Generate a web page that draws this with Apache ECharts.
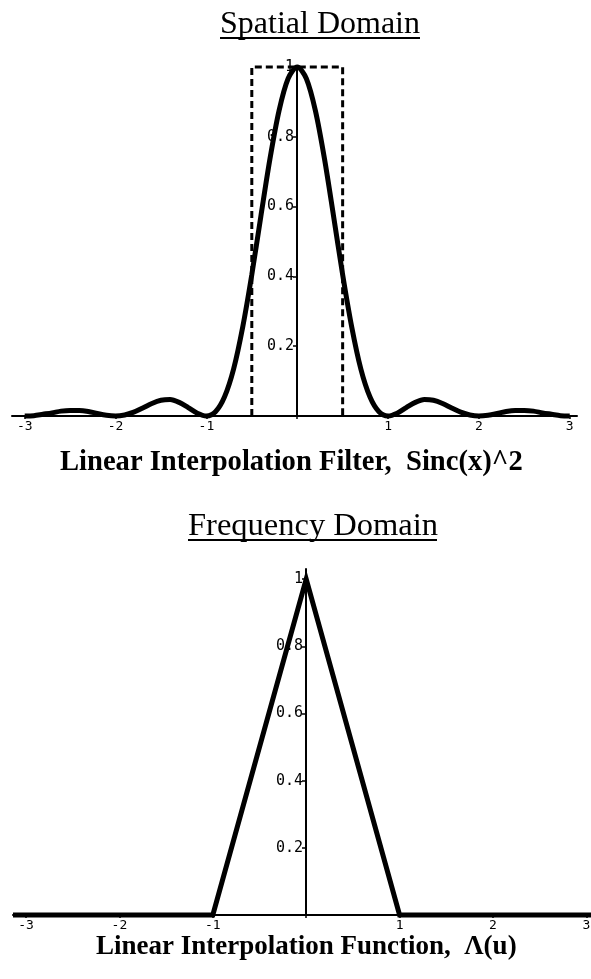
<!DOCTYPE html>
<html>
<head>
<meta charset="utf-8">
<script src="https://cdn.jsdelivr.net/npm/echarts@6/dist/echarts.min.js"></script>
<style>
  html, body { margin: 0; padding: 0; background: #fff; }
  #chart { width: 591px; height: 979px; }
</style>
</head>
<body>
<div id="chart"></div>
<script>
// spatial domain: sinc(x)^2 at 0.1 steps
const sincX = [
  -3, -2.9, -2.8, -2.7, -2.6, -2.5, -2.4, -2.3, -2.2, -2.1,
  -2, -1.9, -1.8, -1.7, -1.6, -1.5, -1.4, -1.3, -1.2, -1.1,
  -1, -0.9, -0.8, -0.7, -0.6, -0.5, -0.4, -0.3, -0.2, -0.1,
  0, 0.1, 0.2, 0.3, 0.4, 0.5, 0.6, 0.7, 0.8, 0.9,
  1, 1.1, 1.2, 1.3, 1.4, 1.5, 1.6, 1.7, 1.8, 1.9,
  2, 2.1, 2.2, 2.3, 2.4, 2.5, 2.6, 2.7, 2.8, 2.9, 3,
]
const sincY = [
  0, 0.001, 0.005, 0.009, 0.014, 0.016, 0.016, 0.013, 0.007, 0.002,
  0, 0.003, 0.011, 0.023, 0.036, 0.045, 0.047, 0.039, 0.024, 0.008,
  0, 0.012, 0.055, 0.135, 0.255, 0.405, 0.573, 0.737, 0.875, 0.967,
  1, 0.967, 0.875, 0.737, 0.573, 0.405, 0.255, 0.135, 0.055, 0.012,
  0, 0.008, 0.024, 0.039, 0.047, 0.045, 0.036, 0.023, 0.011, 0.003,
  0, 0.002, 0.007, 0.013, 0.016, 0.016, 0.014, 0.009, 0.005, 0.001, 0,
]
// dashed box filter outline
const boxX = [-0.5, -0.5, 0.5, 0.5]
const boxY = [0, 1, 1, 0]

// frequency domain: triangle
const triX = [-3.14, -1, 0, 1, 3.05]
const triY = [0, 0, 1, 0, 0]

const xTicks = [-3, -2, -1, 0, 1, 2, 3]
const xLabels = [-3, -2, -1, 1, 2, 3]
const yLabels = [0.2, 0.4, 0.6, 0.8, 1]

const monoFont = 'DejaVu Sans Mono'
const serifFont = '"Liberation Serif", "Times New Roman", serif'

function pairs(xs, ys) {
  return xs.map((x, i) => [x, ys[i]])
}

function makeX(gridIndex, min, max) {
  return {
    type: 'value',
    gridIndex,
    min,
    max,
    splitLine: { show: false },
    axisLine: { onZero: false, lineStyle: { color: '#000', width: 2 } },
    axisTick: { customValues: xTicks, length: 3, lineStyle: { color: '#000', width: 1.5 } },
    axisLabel: {
      customValues: xLabels,
      color: '#000',
      fontFamily: monoFont,
      fontSize: 13,
      margin: 4,
    },
  }
}

// y axis sits on x = 0; shifted there with a negative offset from the grid's left edge
function makeY(gridIndex, max, offset) {
  return {
    type: 'value',
    gridIndex,
    position: 'left',
    offset,
    min: 0,
    max,
    splitLine: { show: false },
    axisLine: { onZero: false, lineStyle: { color: '#000', width: 2 } },
    axisTick: { customValues: yLabels, length: 4, lineStyle: { color: '#000', width: 1.5 } },
    axisLabel: {
      customValues: yLabels,
      color: '#000',
      fontFamily: monoFont,
      fontSize: 15,
      margin: 3,
      formatter: (v) => (v === 1 ? '1' : v.toFixed(1)),
    },
  }
}

const chart = echarts.init(document.getElementById('chart'), null, { renderer: 'canvas' })

chart.setOption({
  animation: false,
  backgroundColor: '#fff',
  grid: [
    { left: 12, top: 67, width: 565, height: 349, outerBoundsMode: 'none', containLabel: false },
    { left: 13, top: 569, width: 578, height: 346, outerBoundsMode: 'none', containLabel: false },
  ],
  xAxis: [makeX(0, -3.14, 3.08), makeX(1, -3.14, 3.05)],
  yAxis: [makeY(0, 1, -285), makeY(1, 1.03, -293)],
  graphic: [
    {
      type: 'text', left: 220, top: 9,
      style: { text: 'Spatial Domain', font: '32px ' + serifFont, fill: '#000' },
    },
    { type: 'line', shape: { x1: 220, y1: 38, x2: 420, y2: 38 }, style: { stroke: '#000', lineWidth: 2 } },
    {
      type: 'text', left: 60, top: 448,
      style: { text: 'Linear Interpolation Filter,  Sinc(x)^2', font: 'bold 28.6px ' + serifFont, fill: '#000' },
    },
    {
      type: 'text', left: 188, top: 510,
      style: { text: 'Frequency Domain', font: '32.5px ' + serifFont, fill: '#000' },
    },
    { type: 'line', shape: { x1: 188, y1: 540, x2: 437, y2: 540 }, style: { stroke: '#000', lineWidth: 2 } },
    {
      type: 'text', left: 96, top: 934,
      style: { text: 'Linear Interpolation Function,  \u039b(u)', font: 'bold 27px ' + serifFont, fill: '#000' },
    },
  ],
  series: [
    {
      type: 'line',
      xAxisIndex: 0,
      yAxisIndex: 0,
      data: pairs(boxX, boxY),
      showSymbol: false,
      clip: false,
      lineStyle: { color: '#000', width: 3, type: [7, 4] },
    },
    {
      type: 'line',
      xAxisIndex: 0,
      yAxisIndex: 0,
      data: pairs(sincX, sincY),
      smooth: 0.3,
      showSymbol: false,
      clip: false,
      lineStyle: { color: '#000', width: 5 },
    },
    {
      type: 'line',
      xAxisIndex: 1,
      yAxisIndex: 1,
      data: pairs(triX, triY),
      showSymbol: false,
      clip: false,
      lineStyle: { color: '#000', width: 5, join: 'miter' },
    },
  ],
})
</script>
</body>
</html>
